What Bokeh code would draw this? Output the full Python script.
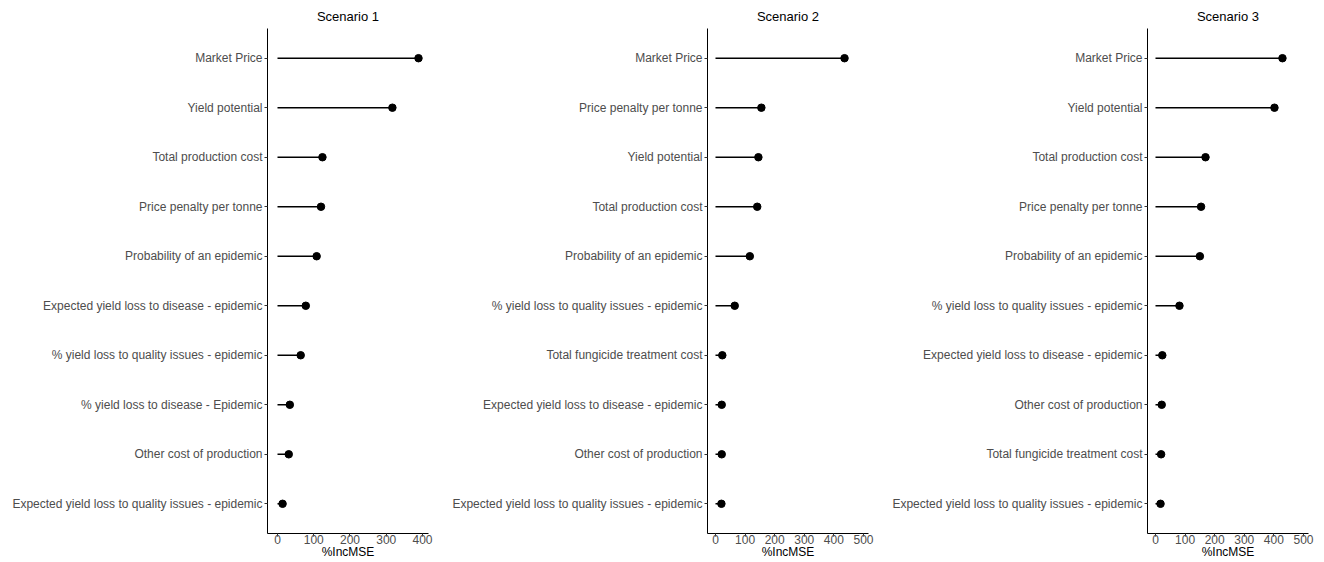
from bokeh.plotting import figure
from bokeh.layouts import row
from bokeh.models import Range1d, FactorRange, FixedTicker
from bokeh.embed import file_html
from bokeh.resources import INLINE

titles = ["Scenario 1", "Scenario 2", "Scenario 3"]

s1_labels = ["Market Price", "Yield potential", "Total production cost",
             "Price penalty per tonne", "Probability of an epidemic",
             "Expected yield loss to disease - epidemic",
             "% yield loss to quality issues - epidemic",
             "% yield loss to disease - Epidemic", "Other cost of production",
             "Expected yield loss to quality issues - epidemic"]
s1_values = [389, 317, 124, 120, 108, 78, 64, 34, 31, 14]

s2_labels = ["Market Price", "Price penalty per tonne", "Yield potential",
             "Total production cost", "Probability of an epidemic",
             "% yield loss to quality issues - epidemic",
             "Total fungicide treatment cost",
             "Expected yield loss to disease - epidemic",
             "Other cost of production",
             "Expected yield loss to quality issues - epidemic"]
s2_values = [436, 155, 145, 141, 116, 65, 23, 21, 21, 20]

s3_labels = ["Market Price", "Yield potential", "Total production cost",
             "Price penalty per tonne", "Probability of an epidemic",
             "% yield loss to quality issues - epidemic",
             "Expected yield loss to disease - epidemic",
             "Other cost of production", "Total fungicide treatment cost",
             "Expected yield loss to quality issues - epidemic"]
s3_values = [429, 402, 169, 154, 150, 81, 23, 21, 19, 17]

s1_ticks = [0, 100, 200, 300, 400]
s23_ticks = [0, 100, 200, 300, 400, 500]

FONT = "Liberation Sans"


def make_panel(title, labels, values, xr, ticks, border_right):
    factors = labels[::-1]
    p = figure(width=267 + 161 + border_right, height=562,
               y_range=FactorRange(factors=factors, range_padding=0.02),
               x_range=Range1d(*xr), output_backend="svg",
               toolbar_location=None, min_border_left=267,
               min_border_right=border_right, min_border_top=28,
               min_border_bottom=29, title=title)
    p.title.align = "center"
    p.title.text_font = FONT
    p.title.text_font_size = "13px"
    p.title.text_font_style = "normal"
    p.title.text_color = "black"
    p.title.standoff = 9
    p.title.offset = 0
    p.outline_line_color = None
    p.grid.visible = False
    p.segment(x0=0, y0=labels, x1=values, y1=labels, line_color="black",
              line_width=1.6)
    p.scatter(x=values, y=labels, size=7.5, color="black")

    p.xaxis.ticker = FixedTicker(ticks=ticks)
    p.xaxis.axis_label = "%IncMSE"
    for ax in (p.xaxis[0], p.yaxis[0]):
        ax.axis_line_color = "black"
        ax.axis_line_width = 1
        ax.major_tick_out = 3
        ax.major_tick_in = 0
        ax.minor_tick_line_color = None
        ax.major_tick_line_color = "#333333"
        ax.major_label_text_font = FONT
        ax.major_label_text_font_size = "12px"
        ax.major_label_text_color = "#4D4D4D"
        ax.axis_label_text_font = FONT
        ax.axis_label_text_font_size = "12px"
        ax.axis_label_text_font_style = "normal"
        ax.axis_label_text_color = "black"
    p.yaxis.major_label_standoff = 2
    p.xaxis.major_label_standoff = -2
    p.xaxis.axis_label_standoff = -2
    return p


p1 = make_panel(titles[0], s1_labels, s1_values, (-27.6, 416.6), s1_ticks, 12)
p2 = make_panel(titles[1], s2_labels, s2_values, (-27.0, 517.0), s23_ticks, 12)
p3 = make_panel(titles[2], s3_labels, s3_values, (-27.0, 517.0), s23_ticks, 16)

layout = row(p1, p2, p3)
open("out.html", "w").write(file_html(layout, INLINE))
